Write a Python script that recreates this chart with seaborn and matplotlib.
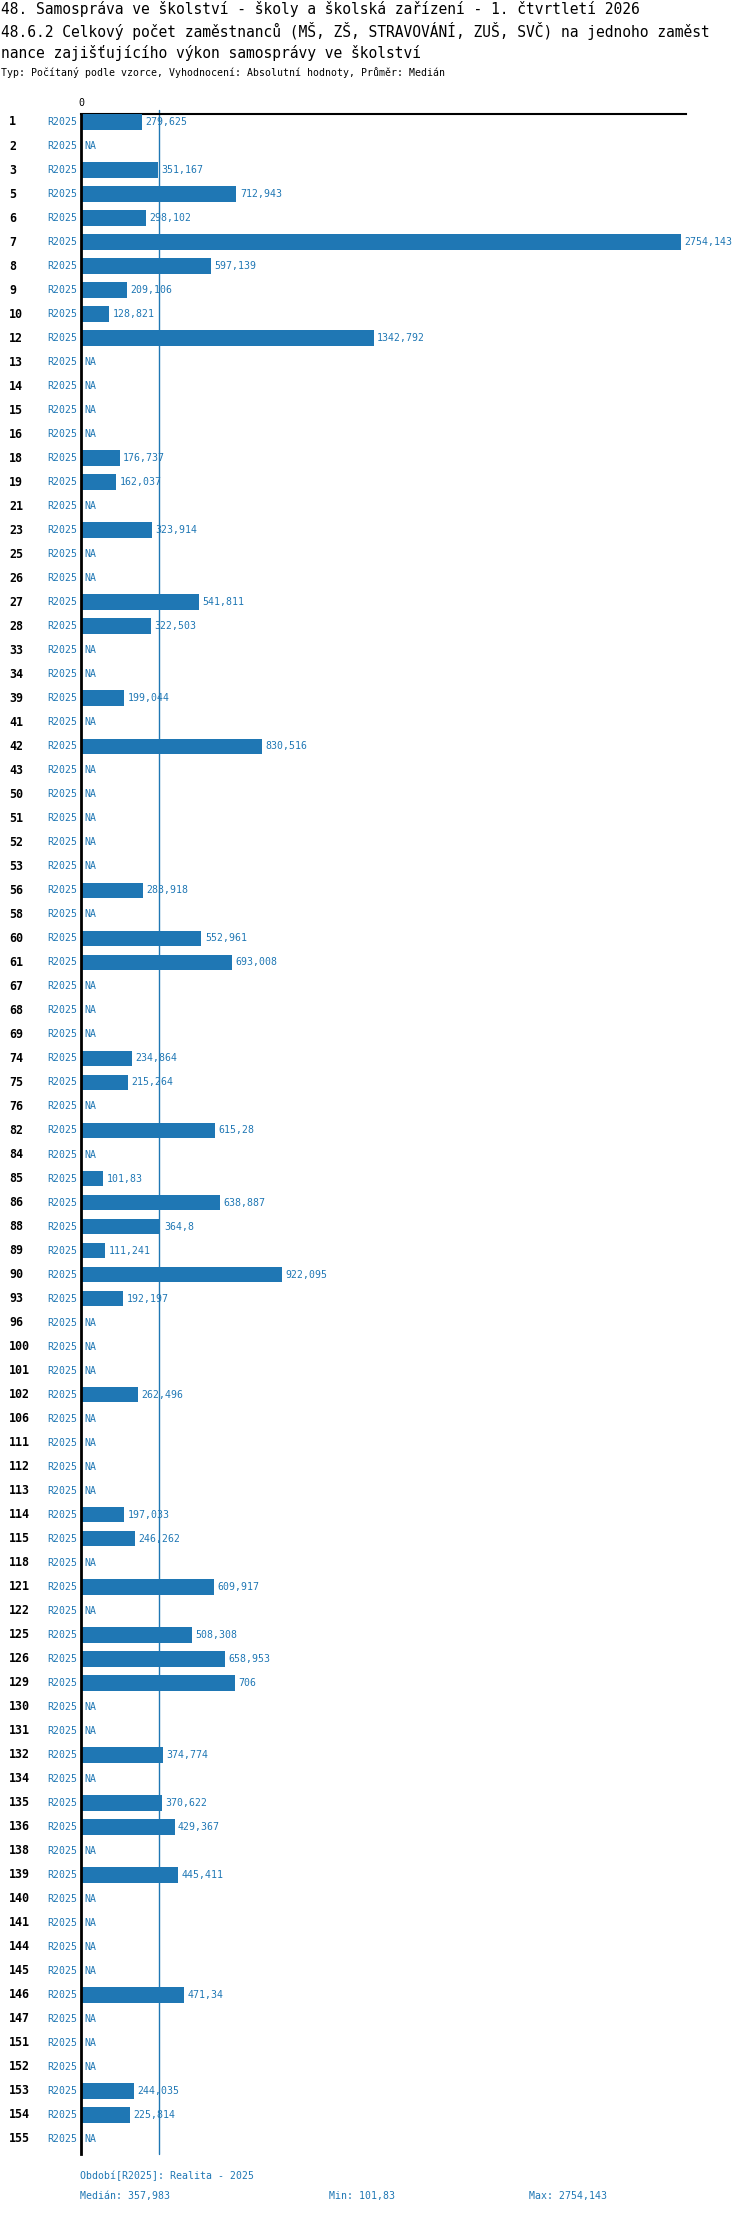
import numpy as np
import pandas as pd
import matplotlib
matplotlib.use("Agg")
import matplotlib.pyplot as plt
import seaborn as sns

# ---------------- data ----------------
labels = ["1", "2", "3", "5", "6", "7", "8", "9", "10", "12", "13", "14", "15", "16",
          "18", "19", "21", "23", "25", "26", "27", "28", "33", "34", "39", "41", "42",
          "43", "50", "51", "52", "53", "56", "58", "60", "61", "67", "68", "69", "74",
          "75", "76", "82", "84", "85", "86", "88", "89", "90", "93", "96", "100", "101",
          "102", "106", "111", "112", "113", "114", "115", "118", "121", "122", "125",
          "126", "129", "130", "131", "132", "134", "135", "136", "138", "139", "140",
          "141", "144", "145", "146", "147", "151", "152", "153", "154", "155"]
NA = np.nan
values = [279.625, NA, 351.167, 712.943, 298.102, 2754.143, 597.139, 209.106, 128.821,
          1342.792, NA, NA, NA, NA,
          176.737, 162.037, NA, 323.914, NA, NA, 541.811, 322.503, NA, NA, 199.044, NA,
          830.516,
          NA, NA, NA, NA, NA, 283.918, NA, 552.961, 693.008, NA, NA, NA, 234.864,
          215.264, NA, 615.28, NA, 101.83, 638.887, 364.8, 111.241, 922.095, 192.197,
          NA, NA, NA,
          262.496, NA, NA, NA, NA, 197.033, 246.262, NA, 609.917, NA, 508.308,
          658.953, 706.0, NA, NA, 374.774, NA, 370.622, 429.367, NA, 445.411, NA,
          NA, NA, NA, 471.34, NA, NA, NA, 244.035, 225.814, NA]
period = "R2025"
median_value = 357.983
title_lines = [
    "48. Samospráva ve školství - školy a školská zařízení - 1. čtvrtletí 2026",
    "48.6.2 Celkový počet zaměstnanců (MŠ, ZŠ, STRAVOVÁNÍ, ZUŠ, SVČ) na jednoho zaměst",
    "nance zajišťujícího výkon samosprávy ve školství",
]
subtitle = "Typ: Počítaný podle vzorce, Vyhodnocení: Absolutní hodnoty, Průměr: Medián"
footer_period = "Období[R2025]: Realita - 2025"
footer_median = "Medián: 357,983"
footer_min = "Min: 101,83"
footer_max = "Max: 2754,143"

# ---------------- style ----------------
sns.set_style("white")
plt.rcParams["font.family"] = ["DejaVu Sans Mono", "DejaVu Sans"]
BLUE = "#1f77b4"

W, H = 750, 2214
fig = plt.figure(figsize=(W / 100, H / 100), dpi=100)
ax_left, ax_right, ax_top, ax_bot = 81, 686, 114, 2154
ax = fig.add_axes([ax_left / W, 1 - ax_bot / H, (ax_right - ax_left) / W, (ax_bot - ax_top) / H])

df = pd.DataFrame({"label": labels, "value": values})
df_valid = df.dropna()
sns.barplot(data=df_valid, x="value", y="label", order=labels, orient="h",
            color=BLUE, saturation=1, width=0.65, linewidth=0, ax=ax, zorder=3)

px_per_unit = 600 / 2754.143
ax.set_xlim(0, (ax_right - ax_left) / px_per_unit)
ax.set_ylim(len(labels) - 1 + 0.625, -0.333)

# spines
for s in ["right", "bottom"]:
    ax.spines[s].set_visible(False)
ax.spines["left"].set_color("black")
ax.spines["left"].set_linewidth(2)
ax.spines["top"].set_color("black")
ax.spines["top"].set_linewidth(1.5)
ax.spines["left"].set_zorder(5)

# ticks
ax.set_yticks([])
ax.set_ylabel("")
ax.set_xlabel("")
ax.xaxis.tick_top()
ax.set_xticks([0])
ax.set_xticklabels(["0"])
ax.tick_params(axis="x", length=0, pad=4, labelsize=7.2, colors="black")
ax.grid(False)

# median line
ax.axvline(median_value, ymin=0, ymax=1 + 4 / (ax_bot - ax_top), color=BLUE,
           lw=1, zorder=1, clip_on=False)

# row labels
ytr = ax.get_yaxis_transform()
def xfrac(px):
    return (px - ax_left) / (ax_right - ax_left)

for i, (lab, v) in enumerate(zip(labels, values)):
    ax.text(xfrac(9), i, lab, transform=ytr, ha="left", va="center",
            fontsize=8.4, fontweight="bold", color="black", clip_on=False)
    ax.text(xfrac(77), i, period, transform=ytr, ha="right", va="center",
            fontsize=7.1, color=BLUE, clip_on=False)
    if np.isnan(v):
        txt, xv = "NA", 0.0
    else:
        txt = format(v, ".3f").rstrip("0").rstrip(".").replace(".", ",")
        xv = v
    ax.annotate(txt, xy=(xv, i), xytext=(3.5, 0), textcoords="offset pixels",
                ha="left", va="center", fontsize=7.1, color=BLUE,
                annotation_clip=False, zorder=6)

# titles
for k, line in enumerate(title_lines):
    fig.text(1 / W, 1 - (9 + 22 * k) / H, line, ha="left", va="center",
             fontsize=10.5, color="black")
fig.text(1 / W, 1 - 73 / H, subtitle, ha="left", va="center", fontsize=7.1, color="black")

# footer
fig.text(80 / W, 1 - 2176 / H, footer_period, ha="left", va="center", fontsize=7.1, color=BLUE)
fig.text(80 / W, 1 - 2196 / H, footer_median, ha="left", va="center", fontsize=7.1, color=BLUE)
fig.text(329 / W, 1 - 2196 / H, footer_min, ha="left", va="center", fontsize=7.1, color=BLUE)
fig.text(529 / W, 1 - 2196 / H, footer_max, ha="left", va="center", fontsize=7.1, color=BLUE)

fig.savefig("out.png", dpi=100, facecolor="white")
